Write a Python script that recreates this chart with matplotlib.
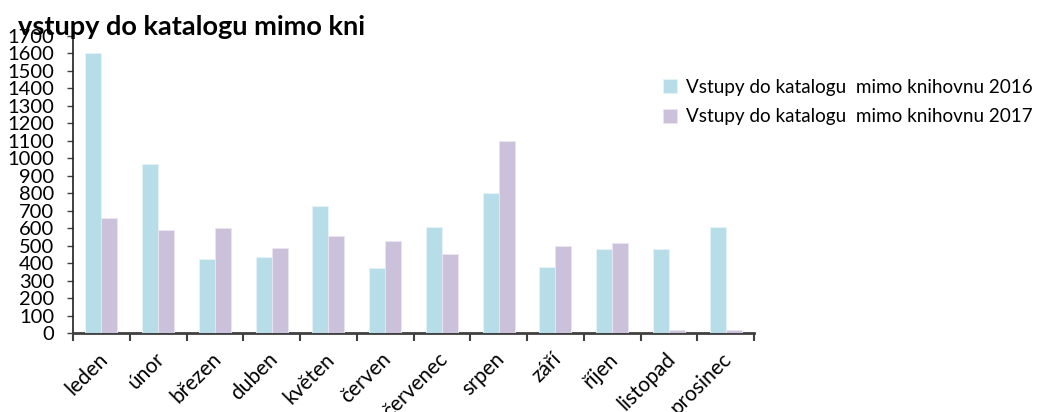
import numpy as np
import matplotlib
matplotlib.use("Agg")
import matplotlib.pyplot as plt

plt.rcParams['font.family'] = ['Lato', 'DejaVu Sans']

# ------------------------------------ chart data
months = ["leden", "únor", "březen", "duben", "květen", "červen",
          "červenec", "srpen", "září", "říjen", "listopad", "prosinec"]
vals_2016 = [1605, 970, 424, 435, 728, 370, 607, 800, 379, 481, 481, 607]
vals_2017 = [660, 590, 600, 489, 554, 525, 452, 1100, 498, 515, 15, 15]
series_names = ["Vstupy do katalogu  mimo knihovnu 2016",
                "Vstupy do katalogu  mimo knihovnu 2017"]
title = "vstupy do katalogu mimo kni"
yticks = list(range(0, 1800, 100))

# ------------------------------------ figure and axes
W, H = 1043, 412
fig = plt.figure(figsize=(W / 100, H / 100), dpi=100)
axi = fig.add_axes([73 / W, 1 - 333 / H, (754 - 73) / W, (333 - 36) / H])

x = np.arange(len(months))
bw = 0.28
axi.bar(x - bw / 2, vals_2016, bw, color="#b7dde8",
        edgecolor="#e4f3f7", linewidth=0.6, label=series_names[0],
        zorder=3)
axi.bar(x + bw / 2, vals_2017, bw, color="#ccc1da",
        edgecolor="#ece6f2", linewidth=0.6, label=series_names[1],
        zorder=3)

axi.set_xlim(-0.5, len(months) - 0.5)
axi.set_ylim(0, 1700)
axi.set_yticks(yticks)
axi.tick_params(axis="y", labelsize=14.5, length=4.5, width=1,
                color="#404040", pad=9)

# category boundary ticks on x axis, labels centred on groups
axi.set_xticks(np.arange(-0.5, len(months)), minor=False)
axi.set_xticklabels([])
axi.tick_params(axis="x", length=6, width=1.5, color="#404040")
for i, m in enumerate(months):
    axi.annotate(m, xy=(i, 0), xycoords=("data", "axes fraction"),
                 xytext=(-4, -16), textcoords="offset pixels",
                 rotation=45, rotation_mode="anchor",
                 ha="right", va="top", fontsize=15,
                 annotation_clip=False)

for s in ["top", "right"]:
    axi.spines[s].set_visible(False)
axi.spines["left"].set_color("#202020")
axi.spines["left"].set_linewidth(1.2)
axi.spines["bottom"].set_color("#404040")
axi.spines["bottom"].set_linewidth(2)

fig.text(18 / W, 1 - 35 / H, title, fontsize=19.5, fontweight="bold",
         ha="left", va="baseline")

fig.legend(loc="upper left", bbox_to_anchor=(646 / W, 1 - 62 / H),
           frameon=False, fontsize=13.6, handlelength=0.75,
           handleheight=0.75, handletextpad=0.45, labelspacing=0.65)

fig.savefig("out.png", dpi=100)
